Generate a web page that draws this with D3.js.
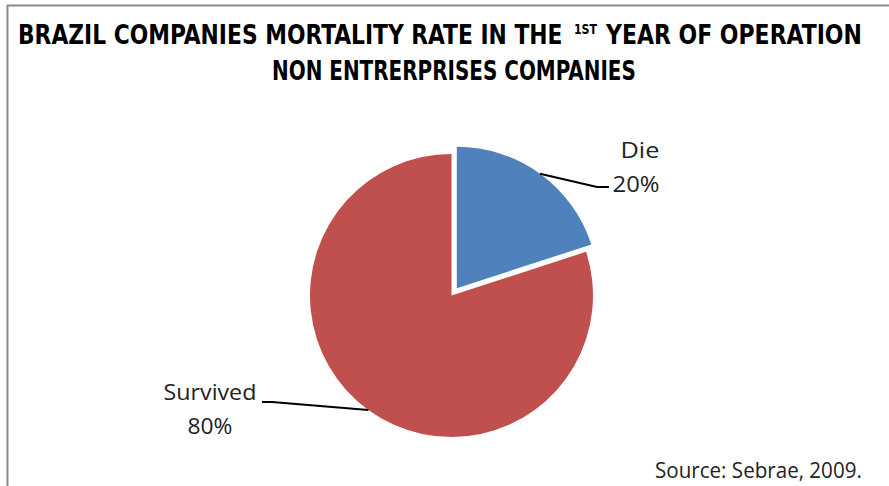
<!DOCTYPE html>
<html>
<head>
<meta charset="utf-8">
<script src="https://cdn.jsdelivr.net/npm/d3@7"></script>
<style>
  body { margin: 0; background: #fff; }
  svg { display: block; }
  .title { font-family: "Liberation Sans Narrow", "DejaVu Sans Condensed", sans-serif; font-weight: bold; fill: #000; }
  .lbl { font-family: "Open Sans", "Noto Sans", sans-serif; fill: #222; }
</style>
</head>
<body>
<svg width="889" height="486"></svg>
<script>
let labels = ["Die", "Survived"],
    values = [20, 80],
    colors = ["#4f81bd", "#c0504d"],
    source = "Source: Sebrae, 2009.";

let svg = d3.select("svg"),
    width = +svg.attr("width"),
    height = +svg.attr("height");

// frame (only top and left edges visible)
svg.append("path")
    .attr("d", "M7.5,486V5.5H889")
    .attr("fill", "none")
    .attr("stroke", "#8a8a8a")
    .attr("stroke-width", 2);

// text squeezed horizontally to a given width
function fitText(cls, str, x, y, size, len) {
  let t = svg.append("text")
      .attr("class", cls)
      .attr("font-size", size)
      .text(str);
  let w = t.node().getComputedTextLength(),
      s = len / w;
  t.attr("transform", `translate(${x},${y}) scale(${s},1)`);
  return t;
}

// title, split so the superscript sits on its own
fitText("title", "BRAZIL COMPANIES MORTALITY RATE IN THE", 18, 44, 26, 545);
fitText("title", "1ST", 574, 34, 14, 23);
fitText("title", "YEAR OF OPERATION", 606, 44, 26, 256);
fitText("title", "NON ENTRERPRISES COMPANIES", 272, 80, 26, 364);

// pie
let cx = 451.5, cy = 295.5, r = 141.5, explode = 9;

let pie = d3.pie().sort(null).value(d => d);
let arcs = pie(values);

let arc = d3.arc().innerRadius(0).outerRadius(r);

let g = svg.append("g").attr("transform", `translate(${cx},${cy})`);

function offset(d, i) {
  if (i !== 0) return [0, 0];
  let a = (d.startAngle + d.endAngle) / 2;
  return [Math.sin(a) * explode, -Math.cos(a) * explode];
}

g.selectAll("path.slice")
    .data(arcs)
  .enter().append("path")
    .attr("class", "slice")
    .attr("transform", (d, i) => `translate(${offset(d, i)})`)
    .attr("d", arc)
    .attr("fill", (d, i) => colors[i]);

// data labels with leader lines
let labelPos = [
  { x1: 640, x2: 636, y1: 158, y2: 192, w1: 39, w2: 47, elbow: [[597, 187], [609, 187]] },
  { x1: 210, x2: 210, y1: 400, y2: 434, w1: 93, w2: 45, elbow: [[272, 402], [262, 402]] }
];

arcs.forEach(function(d, i) {
  let a = (d.startAngle + d.endAngle) / 2,
      o = offset(d, i),
      p0 = [cx + o[0] + Math.sin(a) * r, cy + o[1] - Math.cos(a) * r],
      lp = labelPos[i];

  svg.append("path")
      .attr("d", d3.line()([p0].concat(lp.elbow)))
      .attr("fill", "none")
      .attr("stroke", "#000")
      .attr("stroke-width", 2);

  fitText("lbl", labels[i], lp.x1 - lp.w1 / 2, lp.y1, 22, lp.w1);
  fitText("lbl", values[i] + "%", lp.x2 - lp.w2 / 2, lp.y2, 22, lp.w2);
});

fitText("lbl", source, 655, 478, 21, 207);
</script>
</body>
</html>
